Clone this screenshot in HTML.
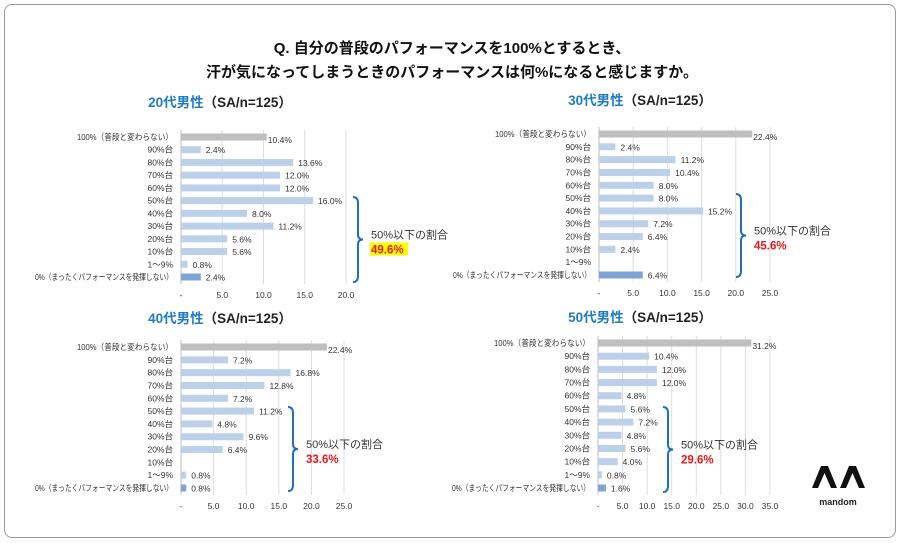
<!DOCTYPE html>
<html><head><meta charset="utf-8">
<style>
html,body{margin:0;padding:0;background:#fff;}
body{width:904px;height:543px;overflow:hidden;position:relative;font-family:"Liberation Sans","Noto Sans CJK JP",sans-serif;}
#frame{position:absolute;left:4px;top:4px;width:890px;height:532px;border:1px solid #999;border-radius:8px;}
.title{position:absolute;left:0;width:904px;text-align:center;font-weight:bold;font-size:15px;color:#111;}
svg{position:absolute;left:0;top:0;}
</style></head><body>
<div id="frame"></div>
<div class="title" style="top:37px">Q. 自分の普段のパフォーマンスを100%とするとき、</div>
<div class="title" style="top:61px">汗が気になってしまうときのパフォーマンスは何%になると感じますか。</div>
<svg id="chart" width="904" height="543"></svg>
<script>
const categories=["100%（普段と変わらない）","90%台","80%台","70%台","60%台","50%台","40%台","30%台","20%台","10%台","1～9%","0%（まったくパフォーマンスを発揮しない）"];
const values20=[10.4,2.4,13.6,12.0,12.0,16.0,8.0,11.2,5.6,5.6,0.8,2.4];
const values30=[22.4,2.4,11.2,10.4,8.0,8.0,15.2,7.2,6.4,2.4,0,6.4];
const values40=[22.4,7.2,16.8,12.8,7.2,11.2,4.8,9.6,6.4,0,0.8,0.8];
const values50=[31.2,10.4,12.0,12.0,4.8,5.6,7.2,4.8,5.6,4.0,0.8,1.6];
const ticks20=[0,5,10,15,20];
const ticks30=[0,5,10,15,20,25];
const ticks40=[0,5,10,15,20,25];
const ticks50=[0,5,10,15,20,25,30,35];
const titles=["20代男性","30代男性","40代男性","50代男性"];
const totals=["49.6%","45.6%","33.6%","29.6%"];
const NS="http://www.w3.org/2000/svg";
const svg=document.getElementById('chart');
function mk(tag,attrs,parent){const e=document.createElementNS(NS,tag);for(const k in attrs)e.setAttribute(k,attrs[k]);(parent||svg).appendChild(e);return e;}
const panels=[
 {vals:values20,ticks:ticks20,x0:181,x1:346,y0:137,y1:277,ty:107,tx:220,bx:357,by0:197,by1:282,hl:true},
 {vals:values30,ticks:ticks30,x0:599,x1:770,y0:134,y1:275,ty:105,tx:640,bx:740,by0:194,by1:277,hl:false},
 {vals:values40,ticks:ticks40,x0:181,x1:344,y0:347,y1:488,ty:323,tx:220,bx:292,by0:407,by1:491,hl:false},
 {vals:values50,ticks:ticks50,x0:598,x1:770,y0:343,y1:488,ty:322,tx:640,bx:667,by0:407,by1:492,hl:false}
];
panels.forEach((p,pi)=>{
 const g=mk('g',{});
 
 
 const max=p.ticks[p.ticks.length-1];
 const xs=v=>p.x0+(p.x1-p.x0)*v/max;
 const step=(p.y1-p.y0)/(categories.length-1);
 const ys=i=>p.y0+i*step;
 const t=mk('text',{x:p.tx,y:p.ty,'text-anchor':'middle','font-size':13.5,'font-weight':'bold',fill:'#222'},g);
 t.innerHTML='<tspan fill="#1f7bc4">'+titles[pi]+'</tspan>（SA/n=125）';
 
 
 p.ticks.forEach(v=>{
  const l=mk('line',{x1:xs(v),x2:xs(v),y1:p.y0-7,y2:p.y1+7,stroke:v===0?'#bbb':'#ddd','stroke-width':1},g);
  
  
  const tl=mk('text',{x:xs(v),y:p.y1+21,'text-anchor':'middle','font-size':8.5,fill:'#333'},g);
  tl.textContent=v===0?'-':v.toFixed(1);
  
  
 });
 categories.forEach((c,i)=>{
  const y=ys(i);const v=p.vals[i];
  const attrs={x:p.x0-8,y:y+3,'text-anchor':'end','font-size':8.5,fill:'#333'};
  if(i===0){attrs.textLength=96;attrs.lengthAdjust='spacingAndGlyphs';}
  if(i===categories.length-1){attrs.textLength=138;attrs.lengthAdjust='spacingAndGlyphs';}
  const lab=mk('text',attrs,g);
  lab.textContent=c;
  
  
  const col=i===0?'#bfbfbf':(i===categories.length-1?'#7ea3d6':'#bdd0ea');
  if(v>0){
   const r=mk('rect',{x:p.x0,y:y-3.5,width:xs(v)-p.x0,height:7,fill:col},g);
   
   
   const vl=mk('text',{x:xs(v)+(i===0?1:5),y:y+(i===0?6:3.5),'font-size':8.5,fill:'#333'},g);
   vl.textContent=v.toFixed(1)+'%';
   
   
  }
 });
 const bm=(p.by0+p.by1)/2;
 const br=mk('path',{d:`M${p.bx-4},${p.by0} Q${p.bx+1},${p.by0} ${p.bx+1},${p.by0+6} L${p.bx+1},${bm-5} Q${p.bx+1},${bm} ${p.bx+6},${bm} Q${p.bx+1},${bm} ${p.bx+1},${bm+5} L${p.bx+1},${p.by1-6} Q${p.bx+1},${p.by1} ${p.bx-4},${p.by1}`,fill:'none',stroke:'#1f6fc0','stroke-width':2},g);
 
 
 const a=mk('text',{x:p.bx+14,y:bm-1,'font-size':11,fill:'#333'},g);
 a.textContent='50%以下の割合';
 
 
 if(p.hl){const h=mk('rect',{x:p.bx+13,y:bm+3,width:38,height:13,fill:'#ffff00'},g);}
 const s=mk('text',{x:p.bx+14,y:bm+14,'font-size':11.5,'font-weight':'bold',fill:'#e8171b'},g);
 s.textContent=totals[pi];
 
 
});
const logo=mk('path',{d:'M812,488 L821,466 L828,466 L837,488 L831,488 L824.5,473 L818,488 Z M840,488 L849,466 L856,466 L865,488 L859,488 L852.5,473 L846,488 Z',fill:'#111'});


const lt=mk('text',{x:838,y:505,'text-anchor':'middle','font-size':9,'font-weight':'bold',fill:'#222'});
lt.textContent='mandom';


</script>
</body></html>
